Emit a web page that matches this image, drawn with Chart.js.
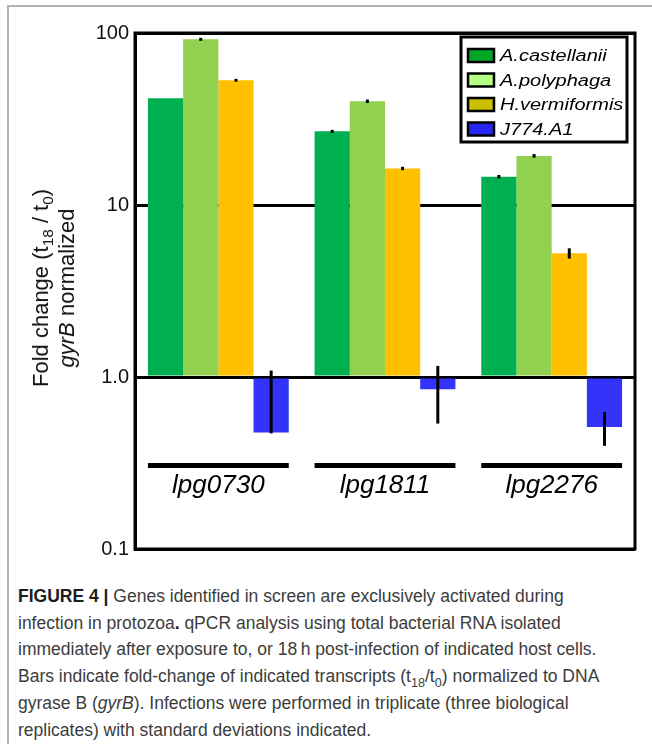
<!DOCTYPE html>
<html>
<head>
<meta charset="utf-8">
<script src="https://cdn.jsdelivr.net/npm/chart.js@4.4.1/dist/chart.umd.min.js"></script>
<style>
  html, body { margin: 0; padding: 0; background: #fff; }
  body { width: 652px; height: 744px; position: relative; overflow: hidden; font-family: 'Liberation Sans', Arial, sans-serif; }
  #frame { position: absolute; left: 7px; top: 5px; right: -2px; bottom: -2px; border-left: 2px solid #b4b4b4; border-top: 2px solid #b4b4b4; }
  #chartBox { position: absolute; left: 0; top: 0; width: 652px; height: 567px; }
  #ytitle { position: absolute; left: 54px; top: 288px; transform: translate(-50%, -50%) rotate(-90deg);
            white-space: nowrap; text-align: center; font-size: 22px; line-height: 26px; color: #111; }
  #ytitle sub { font-size: 0.7em; line-height: 0; }
  #caption { position: absolute; left: 18px; top: 583px; font-size: 17.5px; line-height: 26.7px; color: #3c3c3c; white-space: nowrap; }
  #caption b { color: #1c1c1c; }
  #caption sub { font-size: 0.72em; line-height: 0; }
</style>
</head>
<body>
<div id="frame"></div>
<div id="chartBox"><canvas id="chart" width="652" height="567"></canvas></div>
<div id="ytitle">Fold change (t<sub>18</sub> / t<sub>0</sub>)<br><i>gyrB</i> normalized</div>
<div id="caption">
<b>FIGURE 4 |</b> Genes identified in screen are exclusively activated during<br>
infection in protozoa<b>.</b> qPCR analysis using total bacterial RNA isolated<br>
immediately after exposure to, or 18&#8201;h post-infection of indicated host cells.<br>
Bars indicate fold-change of indicated transcripts (t<sub>18</sub>/t<sub>0</sub>) normalized to DNA<br>
gyrase B (<i>gyrB</i>). Infections were performed in triplicate (three biological<br>
replicates) with standard deviations indicated.
</div>
<script>
// genes on the x axis, host cells as series
var genes = ['lpg0730', 'lpg1811', 'lpg2276'];
var hosts = ['A.castellanii', 'A.polyphaga', 'H.vermiformis', 'J774.A1'];

var castellanii = [41.7, 26.8, 14.6];
var polyphaga = [91.9, 40.1, 19.3];
var vermiformis = [53.1, 16.3, 5.24];
var j774 = [0.475, 0.848, 0.512];

// error bar ends (low / high)
var castellaniiLow = [41.7, 26.6, 14.45];
var castellaniiHigh = [41.7, 27.0, 14.75];
var polyphagaLow = [91.3, 39.7, 19.1];
var polyphagaHigh = [92.5, 40.5, 19.5];
var vermiformisLow = [52.8, 16.15, 4.88];
var vermiformisHigh = [53.4, 16.45, 5.6];
var j774Low = [0.47, 0.536, 0.398];
var j774High = [1.09, 1.16, 0.626];

var yTicks = [0.1, 1, 10, 100];
var yTickLabels = ['0.1', '1.0', '10', '100'];

var barColors = ['#00B050', '#92D050', '#FFC000', '#3333FA'];
var legendColors = ['#00A626', '#B4FF84', '#C8C000', '#2626F2'];

var overlay = {
    id: 'overlay',
    afterDatasetsDraw: function (chart) {
        var c = chart.ctx;
        var y = chart.scales.y;
        var area = chart.chartArea;
        c.save();

        // error bars
        c.strokeStyle = '#000';
        c.lineWidth = 3;
        c.lineCap = 'butt';
        chart.data.datasets.forEach(function (ds, i) {
            var meta = chart.getDatasetMeta(i);
            meta.data.forEach(function (bar, j) {
                if (ds.errLow[j] == ds.errHigh[j]) return;
                var y1 = y.getPixelForValue(ds.errLow[j]);
                var y2 = y.getPixelForValue(ds.errHigh[j]);
                if (Math.abs(y1 - y2) < 2) { y1 += 1; y2 -= 1; }
                c.beginPath();
                c.moveTo(bar.x, y1);
                c.lineTo(bar.x, y2);
                c.stroke();
            });
        });

        // frame
        c.lineWidth = 3;
        c.strokeRect(area.left, area.top, area.right - area.left, area.bottom - area.top);

        // gene labels with bars under the groups
        var first = chart.getDatasetMeta(0);
        var last = chart.getDatasetMeta(chart.data.datasets.length - 1);
        c.fillStyle = '#000';
        c.font = 'italic 26px "Liberation Sans", Arial, sans-serif';
        c.textAlign = 'center';
        c.textBaseline = 'alphabetic';
        genes.forEach(function (g, j) {
            var l = first.data[j].x - first.data[j].width / 2;
            var r = last.data[j].x + last.data[j].width / 2;
            c.fillRect(l, area.bottom - 86, r - l, 5);
            c.fillText(g, (l + r) / 2, area.bottom - 56);
        });

        // legend
        var lx = 461, ly = 37, lw = 166, lh = 105;
        c.fillStyle = '#fff';
        c.fillRect(lx, ly, lw, lh);
        c.lineWidth = 3;
        c.strokeRect(lx, ly, lw, lh);
        c.textAlign = 'left';
        c.font = 'italic 16px "Liberation Sans", Arial, sans-serif';
        hosts.forEach(function (h, i) {
            var base = 61 + i * 24.5;
            c.fillStyle = legendColors[i];
            c.fillRect(468, base - 12, 26, 13);
            c.lineWidth = 2.5;
            c.strokeRect(468, base - 12, 26, 13);
            c.fillStyle = '#000';
            c.save();
            c.translate(500, base);
            c.scale(1.25, 1);
            c.fillText(h, 0, 0);
            c.restore();
        });
        c.restore();
    }
};

var seriesValues = [castellanii, polyphaga, vermiformis, j774];
var seriesLow = [castellaniiLow, polyphagaLow, vermiformisLow, j774Low];
var seriesHigh = [castellaniiHigh, polyphagaHigh, vermiformisHigh, j774High];

new Chart(document.getElementById('chart'), {
    type: 'bar',
    data: {
        labels: genes,
        datasets: hosts.map(function (h, i) {
            return {
                label: h,
                data: seriesValues[i],
                errLow: seriesLow[i],
                errHigh: seriesHigh[i],
                backgroundColor: barColors[i],
                base: 1,
                categoryPercentage: 0.845,
                barPercentage: 1
            };
        })
    },
    options: {
        responsive: false,
        animation: false,
        layout: { padding: { top: 33, right: 17, bottom: 12, left: 0 } },
        scales: {
            x: { display: false },
            y: {
                type: 'logarithmic',
                min: 0.1,
                max: 100,
                afterBuildTicks: function (s) { s.ticks = yTicks.map(function (v) { return { value: v }; }); },
                afterFit: function (s) { s.width = 135; },
                ticks: {
                    callback: function (v, i) { return yTickLabels[i]; },
                    font: { size: 20, family: '"Liberation Sans", Arial, sans-serif' },
                    color: '#111',
                    padding: 6
                },
                grid: { color: '#000', lineWidth: 3, drawTicks: false },
                border: { color: '#000', width: 3 }
            }
        },
        plugins: {
            legend: { display: false },
            tooltip: { enabled: false }
        }
    },
    plugins: [overlay]
});
</script>
</body>
</html>
